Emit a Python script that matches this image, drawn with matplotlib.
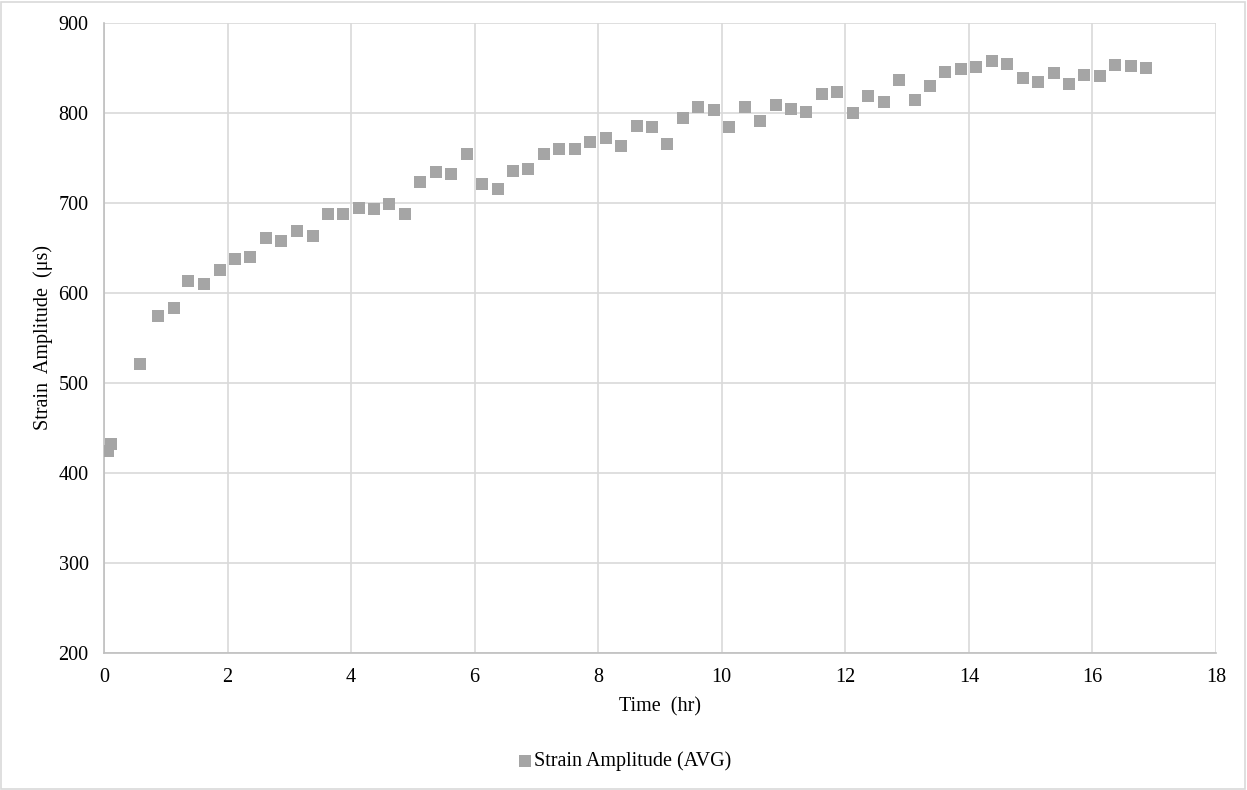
import matplotlib.pyplot as plt
from matplotlib.patches import Rectangle

# Time (hr) and averaged strain amplitude (microstrain)
time_hr = [0.06, 0.11, 0.58, 0.87, 1.13, 1.36, 1.62, 1.87, 2.12, 2.37,
           2.63, 2.87, 3.12, 3.38, 3.62, 3.87, 4.12, 4.37, 4.62, 4.87,
           5.12, 5.37, 5.62, 5.87, 6.12, 6.37, 6.62, 6.87, 7.12, 7.37,
           7.62, 7.87, 8.12, 8.37, 8.62, 8.87, 9.12, 9.37, 9.62, 9.87,
           10.12, 10.37, 10.62, 10.87, 11.12, 11.37, 11.62, 11.87, 12.12, 12.37,
           12.62, 12.87, 13.12, 13.37, 13.62, 13.87, 14.12, 14.37, 14.62, 14.87,
           15.12, 15.37, 15.62, 15.87, 16.12, 16.37, 16.62, 16.87]
strain_avg = [425, 432, 521, 574, 583, 613, 610, 626, 638, 640,
              661, 658, 669, 663, 688, 688, 695, 693, 699, 688,
              723, 734, 732, 754, 721, 716, 736, 738, 754, 760,
              760, 768, 772, 763, 786, 784, 766, 795, 807, 803,
              784, 807, 791, 809, 805, 801, 821, 823, 800, 819,
              812, 837, 814, 830, 846, 849, 851, 858, 855, 839,
              835, 844, 832, 842, 841, 853, 852, 850]

plt.rcParams['font.family'] = ['Liberation Serif', 'DejaVu Serif']

fig = plt.figure(figsize=(12.47, 7.9), dpi=100)
ax = fig.add_axes([104 / 1247, 1 - 653 / 790, (1216 - 104) / 1247, (653 - 23) / 790])

ax.scatter(time_hr, strain_avg, marker='s', s=64, color='#A5A5A5',
           linewidths=0, label='Strain Amplitude (AVG)', zorder=3)

ax.set_xlim(0, 18)
ax.set_ylim(200, 900)
ax.set_xticks(range(0, 19, 2))
ax.set_yticks(range(200, 901, 100))
ax.grid(True, color='#D9D9D9', linewidth=1.2)
ax.set_axisbelow(True)
ax.tick_params(length=0, labelsize=14.5, pad=11)

for side in ['top', 'right']:
    ax.spines[side].set_visible(False)
for side in ['left', 'bottom']:
    ax.spines[side].set_color('#BFBFBF')
    ax.spines[side].set_linewidth(1.2)

ax.set_xlabel('Time  (hr)', fontsize=14.5, labelpad=7)
ax.set_ylabel('Strain  Amplitude  (\u03bcs)', fontsize=14.5, labelpad=4)

fig.legend(loc='center', bbox_to_anchor=(0.5, 1 - 761 / 790), frameon=False,
           fontsize=14.5, handletextpad=0.0, handlelength=0.9, markerscale=1.0)

fig.patches.append(Rectangle((1 / 1247, 1 / 790), 1 - 3 / 1247, 1 - 3 / 790,
                             transform=fig.transFigure, fill=False,
                             edgecolor='#D9D9D9', linewidth=1.2))

fig.savefig('out.png', dpi=100)
